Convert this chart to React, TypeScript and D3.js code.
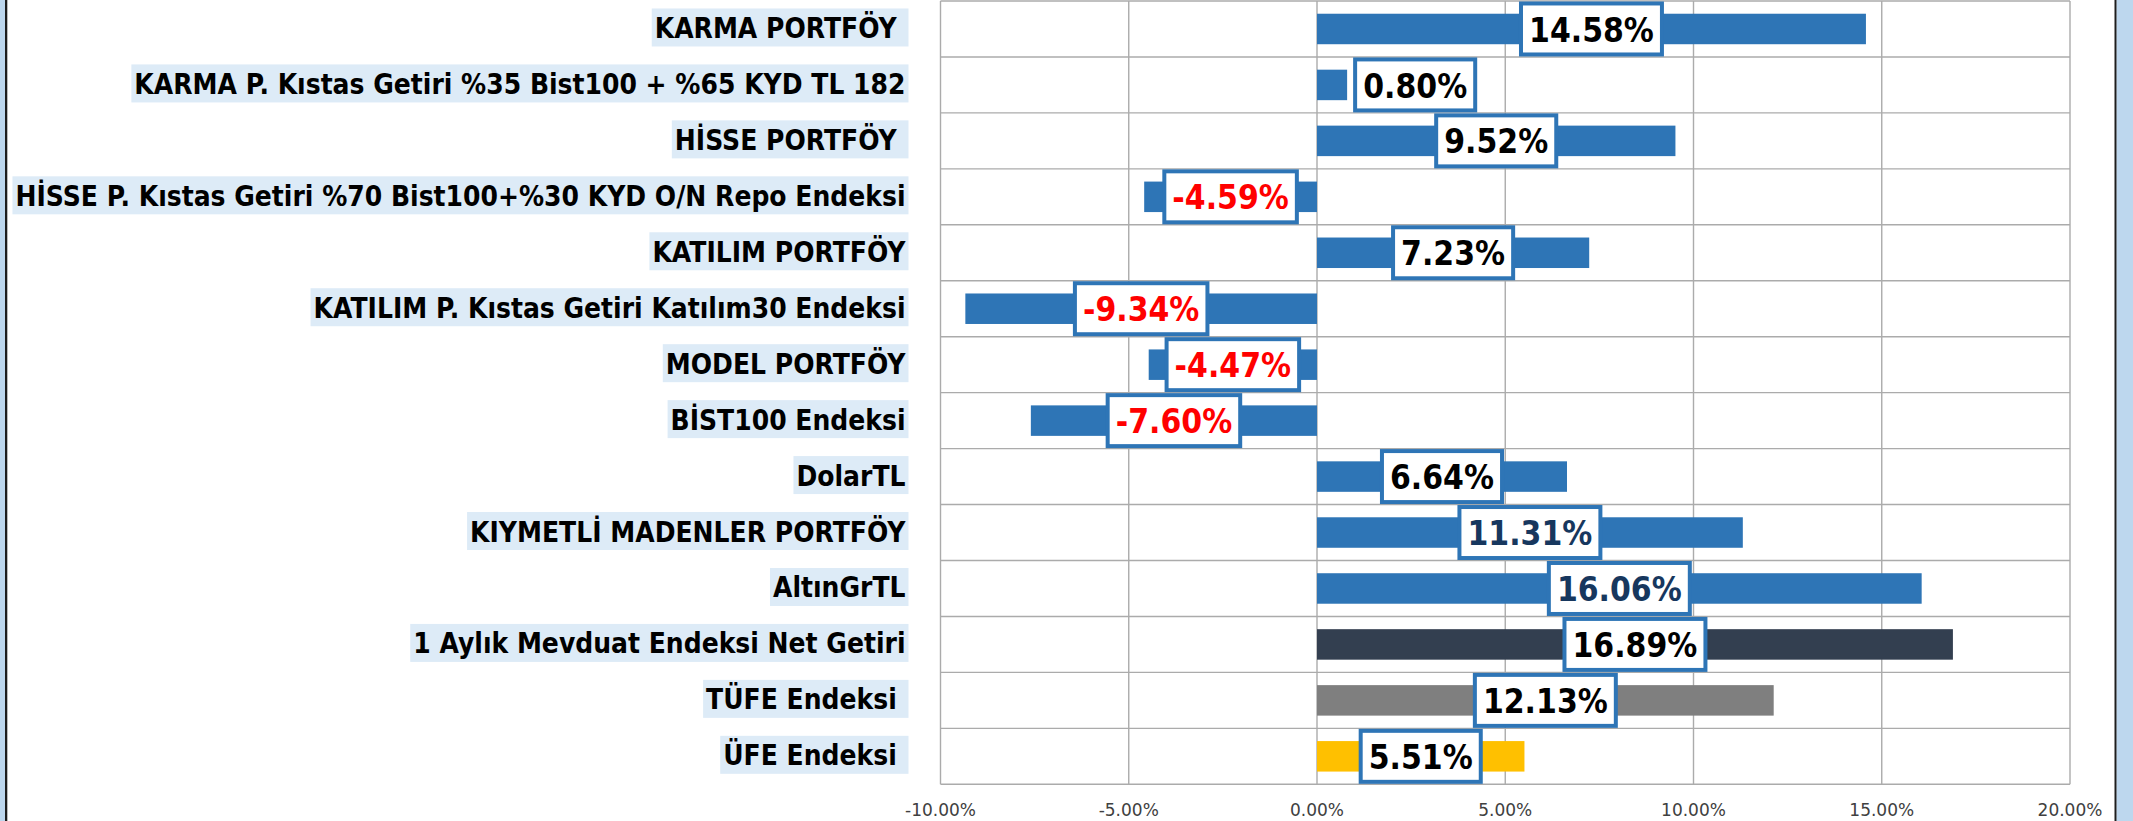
import React, { useEffect, useRef } from "react";
import * as d3 from "d3";

const categories: string[] = [
  "KARMA PORTFÖY ",
  "KARMA P. Kıstas Getiri %35 Bist100 + %65 KYD TL 182",
  "HİSSE PORTFÖY ",
  "HİSSE P. Kıstas Getiri %70 Bist100+%30 KYD O/N Repo Endeksi",
  "KATILIM PORTFÖY",
  "KATILIM P. Kıstas Getiri Katılım30 Endeksi",
  "MODEL PORTFÖY",
  "BİST100 Endeksi",
  "DolarTL",
  "KIYMETLİ MADENLER PORTFÖY",
  "AltınGrTL",
  "1 Aylık Mevduat Endeksi Net Getiri",
  "TÜFE Endeksi ",
  "ÜFE Endeksi ",
];

const values: number[] = [14.58, 0.8, 9.52, -4.59, 7.23, -9.34, -4.47, -7.6, 6.64, 11.31, 16.06, 16.89, 12.13, 5.51];

const tickValues: number[] = [-10, -5, 0, 5, 10, 15, 20];

const specialBarColors: Record<string, string> = {
  "1 Aylık Mevduat Endeksi Net Getiri": "#333F50",
  "TÜFE Endeksi ": "#7F7F7F",
  "ÜFE Endeksi ": "#FFC000",
};
const navyLabelCategories: string[] = ["KIYMETLİ MADENLER PORTFÖY", "AltınGrTL"];

const W = 2133;
const H = 821;

const hyphen = (s: string) => s.replace(/\u2212/g, "-");

export default function App() {
  const ref = useRef<SVGSVGElement | null>(null);

  useEffect(() => {
    const svg = d3.select(ref.current);
    svg.selectAll("*").remove();

    const x = d3.scaleLinear().domain([-10, 20]).range([940.5, 2070]);
    const y = d3.scaleBand<string>().domain(categories).range([1, 784.3]);
    const bw = y.bandwidth();
    const barH = bw * 0.545;
    const stretch = 1.15;

    // outer frame
    svg.append("rect").attr("x", 0).attr("y", 0).attr("width", W).attr("height", H).attr("fill", "#ffffff");
    svg.append("rect").attr("x", 0).attr("y", 0).attr("width", 5).attr("height", H).attr("fill", "#BDD7EE");
    svg.append("rect").attr("x", 5).attr("y", 0).attr("width", 2.3).attr("height", H).attr("fill", "#1e1e1e");
    svg.append("rect").attr("x", 2114.5).attr("y", 0).attr("width", 2.2).attr("height", H).attr("fill", "#1e1e1e");
    svg.append("rect").attr("x", 2116.7).attr("y", 0).attr("width", W - 2116.7).attr("height", H).attr("fill", "#BDD7EE");

    // category labels with highlight
    const catG = svg.append("g");
    const textRight = 905.5;
    categories.forEach((c) => {
      const cy = (y(c) as number) + bw / 2;
      const g = catG.append("g");
      const bg = g.append("rect").attr("fill", "#DDEBF7");
      const t = g
        .append("text")
        .attr("transform", `translate(${textRight},${cy + 9}) scale(1,${stretch})`)
        .attr("text-anchor", "end")
        .attr("font-family", "'DejaVu Sans', Verdana, sans-serif")
        .attr("font-weight", "bold")
        .attr("font-size", 25.1)
        .attr("fill", "#000")
        .style("white-space", "pre")
        .attr("xml:space", "preserve")
        .text(c);
      const len = (t.node() as SVGTextElement).getComputedTextLength();
      const left = textRight - len - 3;
      bg.attr("x", left).attr("y", cy - 20.5).attr("width", 908.5 - left).attr("height", 38);
    });

    // grid
    const grid = svg.append("g").attr("stroke", "#ABABAB").attr("stroke-width", 1.4);
    tickValues.forEach((v) => {
      grid.append("line").attr("x1", x(v)).attr("x2", x(v)).attr("y1", 1).attr("y2", 784.3);
    });
    categories.forEach((c) => {
      const yy = y(c) as number;
      grid.append("line").attr("x1", x(-10)).attr("x2", x(20)).attr("y1", yy).attr("y2", yy);
    });
    grid.append("line").attr("x1", x(-10)).attr("x2", x(20)).attr("y1", 784.3).attr("y2", 784.3);

    // bars
    categories.forEach((c, i) => {
      const v = values[i];
      const cy = (y(c) as number) + bw / 2;
      svg
        .append("rect")
        .attr("x", Math.min(x(0), x(v)))
        .attr("y", cy - barH / 2)
        .attr("width", Math.abs(x(v) - x(0)))
        .attr("height", barH)
        .attr("fill", specialBarColors[c] || "#2E75B6");
    });

    // value labels
    const vfmt = d3.format(".2f");
    categories.forEach((c, i) => {
      const v = values[i];
      const cy = (y(c) as number) + bw / 2;
      const g = svg.append("g");
      const box = g.append("rect").attr("fill", "#fff").attr("stroke", "#2E75B6").attr("stroke-width", 4);
      const color = v < 0 ? "#FF0000" : navyLabelCategories.includes(c) ? "#17375E" : "#000000";
      const t = g
        .append("text")
        .attr("text-anchor", "middle")
        .attr("font-family", "'DejaVu Sans', Verdana, sans-serif")
        .attr("font-weight", "bold")
        .attr("font-size", 30)
        .attr("fill", color)
        .text(hyphen(vfmt(v)) + "%");
      const tw = (t.node() as SVGTextElement).getComputedTextLength();
      const outerW = tw + 20;
      const barW = Math.abs(x(v) - x(0));
      let cx = (x(0) + x(v)) / 2;
      if (barW < outerW) {
        cx = v >= 0 ? x(v) + 6 + outerW / 2 : x(v) - 6 - outerW / 2;
      }
      t.attr("transform", `translate(${cx},${cy + 12.6}) scale(1,${stretch})`);
      box
        .attr("x", cx - outerW / 2 + 2)
        .attr("y", cy - 27.5 + 2)
        .attr("width", outerW - 4)
        .attr("height", 55 - 4);
    });

    // x tick labels
    const fmt = d3.format(".2%");
    tickValues.forEach((v) => {
      svg
        .append("text")
        .attr("x", x(v))
        .attr("y", 816)
        .attr("text-anchor", "middle")
        .attr("font-family", "'DejaVu Sans', Verdana, sans-serif")
        .attr("font-size", 17)
        .attr("fill", "#404040")
        .text(hyphen(fmt(v / 100)));
    });
  }, []);

  return (
    <svg
      ref={ref}
      width={W}
      height={H}
      style={{ position: "fixed", left: 0, top: 0, display: "block" }}
    />
  );
}
